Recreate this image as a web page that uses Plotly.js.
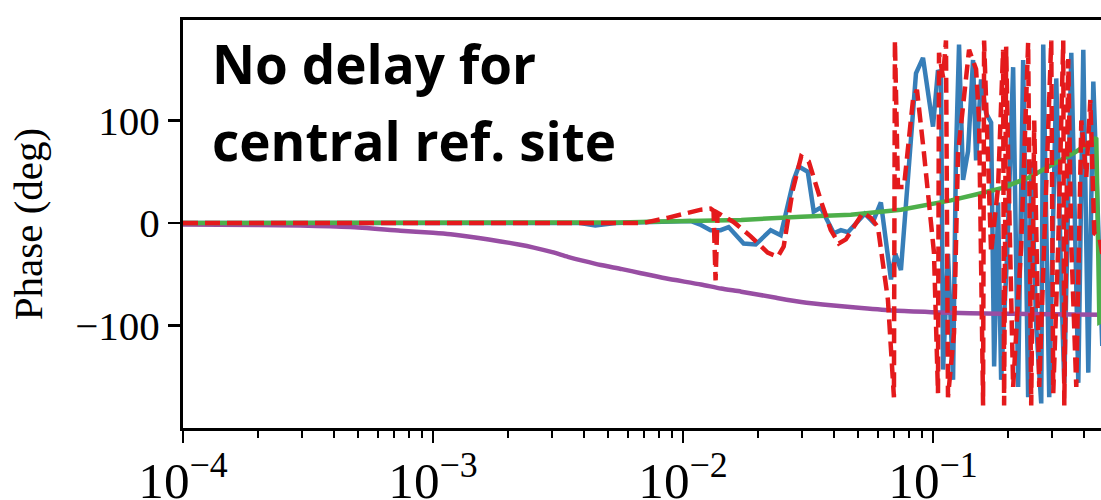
<!DOCTYPE html>
<html>
<head>
<meta charset="utf-8">
<script src="https://cdn.plot.ly/plotly-3.0.1.min.js"></script>
<style>
html,body{margin:0;padding:0;overflow:hidden;background:#fff;}
#chart{width:1200px;height:500px;}
</style>
</head>
<body>
<div id="chart"></div>
<script>
// Frequency (x) and phase in degrees (y)
const purpleFreq = [1e-4, 2.0e-4, 2.94e-4, 4.67e-4, 7.41e-4, 1.0e-3, 1.175e-3, 1.5e-3, 1.866e-3, 2.2e-3, 2.53e-3, 3.0e-3, 3.46e-3, 4.0e-3, 4.69e-3, 5.7e-3, 6.79e-3, 8.5e-3, 0.0118, 0.0142, 0.0171, 0.0236, 0.0297, 0.04, 0.0517, 0.07, 0.0986, 0.14, 0.188, 0.3, 0.473, 1.0];
const purplePhase = [-1.5, -2, -2.5, -4, -7.5, -9.5, -11, -14.5, -18, -21, -24, -28.5, -33, -37, -41, -45, -49, -54, -60, -64, -67, -73, -77, -80.5, -83, -85.5, -87, -88, -88.5, -89, -89.5, -90];

const greenFreq = [1e-4, 0.00388, 0.00562, 0.00812, 0.0118, 0.0171, 0.0297, 0.0469, 0.0744, 0.0986, 0.118, 0.15, 0.188, 0.24, 0.297, 0.37, 0.450, 0.463, 0.48, 0.6];
const greenPhase = [0, 0, 0.5, 1.5, 2.5, 3, 6, 8, 13, 18, 22, 28, 34, 44, 56, 69, 83, -97, -95, -90];

const blueFreq = [1e-4, 0.00388, 0.00446, 0.00536, 0.01072, 0.0118, 0.01289, 0.01414, 0.01522, 0.01748, 0.01953, 0.02242, 0.02459, 0.02772, 0.02903, 0.03155, 0.03334, 0.03557, 0.04011, 0.04279, 0.04565, 0.05339, 0.05749, 0.06188, 0.06789, 0.07069, 0.07442, 0.07794, 0.0855, 0.0912, 0.1, 0.1047, 0.1077, 0.1097, 0.1148, 0.1203, 0.1236, 0.1271, 0.1319, 0.1381, 0.1446, 0.1487, 0.1557, 0.1631, 0.1708, 0.1756, 0.1821, 0.1873, 0.198, 0.2092, 0.219, 0.2294, 0.2402, 0.2471, 0.2587, 0.271, 0.276, 0.2917, 0.3112, 0.326, 0.3351, 0.3574, 0.3813, 0.3992, 0.418, 0.4378, 0.4584, 0.4755, 0.5];
const bluePhase = [0, 0, -2.5, 0, 2, -2, -7, -7, -4, -20, -21, -7, -12, 42, 55, 50, 11, 15, -10, -7, -9, 9, 1, 20, -55, -30, -46, 18, 146, 161, 94, 149, 145, -143, -30, -153, 68, 174, 42, 70, 159, 61, 140, 107, 98, -140, 20, -153, -30, 152, -160, 159, -170, 60, -100, -176, 174, -170, 141, -60, -156, 166, -156, 169, -146, 138, 0, -120, 150];

const redFreq = [1e-4, 0.00694, 0.00867, 0.0118, 0.01289, 0.01325, 0.0135, 0.01375, 0.01593, 0.01865, 0.02181, 0.02392, 0.02528, 0.02747, 0.0297, 0.03184, 0.03557, 0.03901, 0.042, 0.0448, 0.05243, 0.05643, 0.06021, 0.06603, 0.06978, 0.07042, 0.07241, 0.07652, 0.08315, 0.08627, 0.09203, 0.1009, 0.1047, 0.1057, 0.1097, 0.1127, 0.1148, 0.1214, 0.1259, 0.1356, 0.1394, 0.1487, 0.1529, 0.1586, 0.1601, 0.1661, 0.1708, 0.1821, 0.1907, 0.1925, 0.1962, 0.1997, 0.2092, 0.2252, 0.2402, 0.2471, 0.254, 0.266, 0.2837, 0.2972, 0.3027, 0.317, 0.3319, 0.3351, 0.3476, 0.3574, 0.3742, 0.392, 0.4104, 0.4259, 0.4418, 0.4628, 0.4755, 0.5];
const redPhase = [0, 0, 5, 13, 14, 12, -56, 10, 1, -13, -29, -33, -23, 32, 65, 60, 22, -7, -20, -16, 10, 5, -4, -75, -170, 178, 35, 35, 120, 130, 68, -29, -166, 166, 142, 178, -170, -107, 68, 149, 169, 150, 100, -178, 178, 60, -29, 35, 169, -178, 172, 68, -160, -23, 176, -178, 100, -160, 28, 178, -166, -20, 178, -178, 160, -20, -160, 100, 45, 120, -10, -14, -30, 20];

const yTickVals = [-100, 0, 100];
const yTickText = ['\u2212100', '0', '100'];
const noteLines = ['No delay for', 'central ref. site'];

const serif = 'Liberation Serif, Times New Roman, serif';
const sans = 'Open Sans, Noto Sans, sans-serif';
const lw = 4.5;

const traces = [
  {x: blueFreq, y: bluePhase, mode: 'lines', line: {color: '#377eb8', width: lw}, hoverinfo: 'skip'},
  {x: purpleFreq, y: purplePhase, mode: 'lines', line: {color: '#984ea3', width: lw, shape: 'spline', smoothing: 0.6}, hoverinfo: 'skip'},
  {x: greenFreq, y: greenPhase, mode: 'lines', line: {color: '#4daf4a', width: lw}, hoverinfo: 'skip'},
  {x: redFreq, y: redPhase, mode: 'lines', line: {color: '#e41a1c', width: lw, dash: '15px,7px'}, hoverinfo: 'skip'}
];

const layout = {
  width: 1200, height: 500,
  margin: {l: 183, r: 17, t: 20, b: 72},
  paper_bgcolor: '#fff', plot_bgcolor: '#fff',
  showlegend: false,
  font: {family: serif, size: 41, color: '#000'},
  xaxis: {
    type: 'log', range: [-4, 0], dtick: 1, exponentformat: 'power',
    showgrid: false, zeroline: false,
    showline: true, mirror: true, linecolor: '#000', linewidth: 3,
    ticks: 'outside', ticklen: 12, tickwidth: 2.5, tickcolor: '#000',
    ticklabelstandoff: -4,
    minor: {ticks: 'outside', ticklen: 7, tickwidth: 2, tickcolor: '#000', dtick: 'D1', showgrid: false},
    tickfont: {family: serif, size: 41, color: '#000'}
  },
  yaxis: {
    range: [-200, 198], tickvals: yTickVals, ticktext: yTickText,
    showgrid: false, zeroline: false,
    showline: true, mirror: true, linecolor: '#000', linewidth: 3,
    ticks: 'outside', ticklen: 12, tickwidth: 2.5, tickcolor: '#000',
    ticklabelstandoff: 0,
    tickfont: {family: serif, size: 41, color: '#000'},
    title: {text: 'Phase (deg)', font: {family: serif, size: 41, color: '#000'}, standoff: 20}
  },
  annotations: [
    {text: '<b>' + noteLines[0] + '</b>', xref: 'paper', yref: 'paper', x: 0.027, y: 0.987, xanchor: 'left', yanchor: 'top', showarrow: false, font: {family: sans, size: 53, color: '#000'}},
    {text: '<b>' + noteLines[1] + '</b>', xref: 'paper', yref: 'paper', x: 0.027, y: 0.8, xanchor: 'left', yanchor: 'top', showarrow: false, font: {family: sans, size: 53, color: '#000'}}
  ]
};

Plotly.newPlot('chart', traces, layout, {displayModeBar: false, responsive: false, staticPlot: true});
</script>
</body>
</html>
